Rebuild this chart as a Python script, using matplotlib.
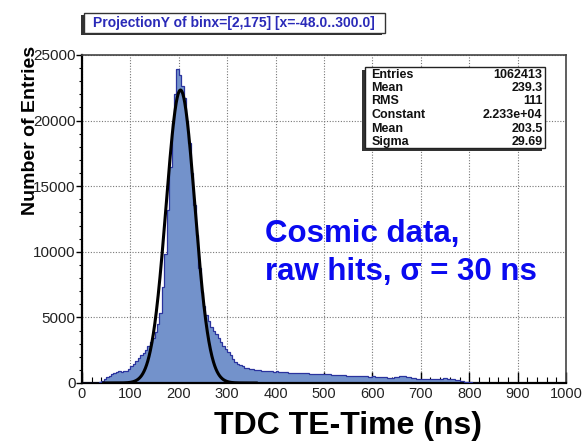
import numpy as np
import matplotlib
matplotlib.use("Agg")
import matplotlib.pyplot as plt
from matplotlib.patches import Rectangle
from matplotlib.ticker import MultipleLocator

plt.rcParams['font.family'] = ['Liberation Sans', 'DejaVu Sans']

# TDC trailing-edge time histogram, 5 ns bins from 0 to 820 ns (empty above)
bin_edges = np.arange(0, 821, 5)
counts = [
    0, 0, 0, 0, 0, 0, 0, 40, 150, 300,
    420, 560, 690, 790, 860, 880, 870, 880, 950, 1100,
    1280, 1450, 1650, 1900, 2100, 2250, 2500, 2800, 3100, 3450,
    3900, 4500, 5300, 7300, 9800, 13200, 16500, 19800, 22000, 23900,
    23500, 22600, 21700, 20000, 18300, 16000, 13600, 11300, 8800, 6900,
    5900, 5200, 4700, 4300, 4000, 3750, 3400, 3100, 2800, 2600,
    2350, 2100, 1800, 1600, 1450, 1350, 1260, 1180, 1120, 1080,
    1040, 1010, 990, 970, 950, 930, 910, 900, 880, 870,
    880, 860, 850, 830, 820, 800, 800, 780, 770, 760,
    760, 740, 740, 730, 720, 710, 700, 690, 680, 670,
    670, 650, 650, 630, 620, 610, 600, 590, 580, 570,
    560, 560, 550, 540, 530, 520, 510, 500, 490, 480,
    500, 470, 460, 440, 430, 420, 410, 400, 410, 430,
    470, 500, 520, 510, 480, 440, 400, 360, 330, 300,
    290, 280, 275, 280, 290, 300, 320, 330, 340, 350,
    350, 340, 320, 290, 250, 200, 160, 130, 100, 80,
    50, 20, 5, 0,
]

# Gaussian fit parameters
fit_constant = 2.233e4
fit_mean = 203.5
fit_sigma = 29.69

stats_labels = ["Entries", "Mean", "RMS", "Constant", "Mean", "Sigma"]
stats_values = ["1062413", "239.3", "111", "2.233e+04", "203.5", "29.69"]

x_ticks = list(range(0, 1001, 100))
y_ticks = list(range(0, 25001, 5000))

fig = plt.figure(figsize=(5.83, 4.41), dpi=100)
W, H = 583, 441

ax_l, ax_r, ax_t, ax_b = 82, 566, 55, 383
ax = fig.add_axes([ax_l / W, 1 - ax_b / H, (ax_r - ax_l) / W, (ax_b - ax_t) / H])

ax.stairs(counts, bin_edges, fill=True, color="#7392cb", zorder=2)
ax.stairs(counts, bin_edges, color="#2a339e", linewidth=0.9, zorder=3)

xf = np.linspace(45, 360, 500)
yf = fit_constant * np.exp(-0.5 * ((xf - fit_mean) / fit_sigma) ** 2)
ax.plot(xf, yf, color="black", linewidth=2.2, zorder=4)

ax.set_xlim(0, 1000)
ax.set_ylim(0, 25000)
ax.set_xticks(x_ticks)
ax.set_yticks(y_ticks)
ax.xaxis.set_minor_locator(MultipleLocator(20))
ax.yaxis.set_minor_locator(MultipleLocator(1000))
ax.tick_params(axis='x', which='major', direction='in', length=8, width=1.0,
               labelsize=10.5, pad=3, colors='black')
ax.tick_params(axis='x', which='minor', direction='in', length=4, width=0.8)
ax.tick_params(axis='y', which='major', direction='out', length=4, width=1.0,
               labelsize=11, pad=0.5)
ax.tick_params(axis='y', which='minor', direction='out', length=2.5, width=0.8)
for lab in ax.get_xticklabels() + ax.get_yticklabels():
    lab.set_color("#222222")

ax.grid(True, which='major', linestyle=(0, (1, 1.5)), color="#777777", linewidth=0.8, zorder=1)
ax.set_axisbelow(True)

for side in ("left", "bottom"):
    ax.spines[side].set_linewidth(1.6)
    ax.spines[side].set_color("black")
for side in ("top", "right"):
    ax.spines[side].set_linewidth(1.2)
    ax.spines[side].set_color("#444444")


def px_box(x0, y0, x1, y1, **kw):
    return Rectangle((x0 / W, 1 - y1 / H), (x1 - x0) / W, (y1 - y0) / H,
                     transform=fig.transFigure, **kw)


# Title box with drop shadow
fig.patches.append(px_box(81, 15, 382, 35, facecolor="#333333", edgecolor="none", zorder=1))
fig.patches.append(px_box(84, 13, 385, 33, facecolor="white", edgecolor="#333333", linewidth=1.0, zorder=2))
fig.text(234 / W, 1 - 23 / H, "ProjectionY of binx=[2,175] [x=-48.0..300.0]",
         ha="center", va="center", fontsize=10, fontweight="bold", color="#2a2ab8", zorder=3)

# Statistics box with drop shadow
fig.patches.append(px_box(362, 70, 542, 151, facecolor="#333333", edgecolor="none", zorder=1))
fig.patches.append(px_box(365, 67, 545, 148, facecolor="white", edgecolor="#222222", linewidth=1.0, zorder=2))
for i, (lab, val) in enumerate(zip(stats_labels, stats_values)):
    yc = 74.5 + 13.5 * i
    fig.text(371.5 / W, 1 - yc / H, lab, ha="left", va="center", fontsize=9,
             fontweight="bold", color="#111111", zorder=3)
    fig.text(542.5 / W, 1 - yc / H, val, ha="right", va="center", fontsize=9,
             fontweight="bold", color="#111111", zorder=3)

# Annotation
fig.text(265 / W, 1 - 242 / H, "Cosmic data,", ha="left", va="baseline",
         fontsize=22.5, fontweight="bold", color="#0a0af0")
fig.text(265 / W, 1 - 280 / H, "raw hits, \u03c3 = 30 ns", ha="left", va="baseline",
         fontsize=22.5, fontweight="bold", color="#0a0af0")

# Axis titles
fig.text(31 / W, 1 - 46 / H, "Number of Entries", rotation=90, ha="center", va="top",
         fontsize=14, fontweight="bold", color="black")
fig.text(348 / W, 1 - 426 / H, "TDC TE-Time (ns)", ha="center", va="center",
         fontsize=23, fontweight="bold", color="black")

fig.savefig("out.png", dpi=100)
